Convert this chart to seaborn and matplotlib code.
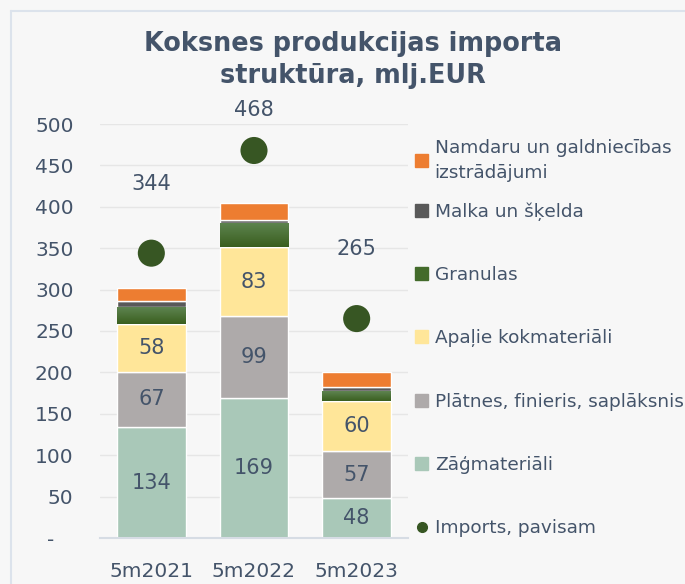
import numpy as np
import pandas as pd
import matplotlib
matplotlib.use("Agg")
import matplotlib.pyplot as plt
from matplotlib.patches import Patch
from matplotlib.lines import Line2D
from matplotlib.colors import LinearSegmentedColormap
import seaborn as sns

# chart data (mlj. EUR)
periods = ["5m2021", "5m2022", "5m2023"]
zagmateriali = [134, 169, 48]
platnes = [67, 99, 57]
apalie = [58, 83, 60]
granulas = [20, 29, 12]
malka = [7, 4, 5]
namdaru = [16, 20, 18]
imports_total = [344, 468, 265]

series_names = [
    "Zāģmateriāli",
    "Plātnes, finieris, saplāksnis",
    "Apaļie kokmateriāli",
    "Granulas",
    "Malka un šķelda",
    "Namdaru un galdniecības\nizstrādājumi",
]
series_values = [zagmateriali, platnes, apalie, granulas, malka, namdaru]
series_colors = ["#A9C8B8", "#AEAAAA", "#FFE699", "#436B2B", "#595959", "#ED7D31"]
label_series = [True, True, True, False, False, False]

TEXT = "#44546A"
BG = "#F7F7F7"

sns.set_theme(style="white")
plt.rcParams["font.family"] = ["DejaVu Sans"]

fig = plt.figure(figsize=(6.85, 5.84), dpi=100, facecolor=BG)
ax = fig.add_axes([100 / 685, 46 / 584, 308 / 685, (538 - 124) / 584])
ax.set_facecolor(BG)

df = pd.DataFrame({"period": periods})
bottom = np.zeros(len(periods))
for name, vals, col, lab in zip(series_names, series_values, series_colors, label_series):
    df["v"] = vals
    sns.barplot(data=df, x="period", y="v", color=col, width=0.67, bottom=bottom,
                saturation=1, ax=ax, zorder=2)
    cont = ax.containers[-1]
    if name == "Granulas":
        # vertical gradient fill like the original
        cmap = LinearSegmentedColormap.from_list("g", ["#3A5F1F", "#5E8450"])
        grad = np.linspace(0, 1, 64).reshape(-1, 1)
        for p in cont:
            x0, y0, w, h = p.get_x(), p.get_y(), p.get_width(), p.get_height()
            im = ax.imshow(grad, cmap=cmap, origin="lower", aspect="auto",
                           extent=[x0, x0 + w, y0, y0 + h], zorder=2.5)
            im.set_clip_path(p)
    if lab:
        ax.bar_label(cont, labels=[str(v) for v in vals], label_type="center",
                     fontsize=15, color=TEXT)
    bottom = bottom + np.array(vals)

# total imports dots, labels above (kept inside the chart top)
sns.scatterplot(x=periods, y=imports_total, s=380, color="#375623", edgecolor="none",
                ax=ax, zorder=4, legend=False)
for i, v in enumerate(imports_total):
    ax.text(i, min(v + 84, 517), str(v), ha="center", va="center", fontsize=15,
            color=TEXT, clip_on=False)

ax.set_xlim(-0.5, 2.5)
ax.set_ylim(0, 500)
ax.set_yticks(range(0, 501, 50))
ax.set_yticklabels(["-   "] + [str(t) for t in range(50, 501, 50)])
ax.yaxis.grid(True, color="#E6E6E6", linewidth=1)
ax.set_axisbelow(True)
for s in ["top", "right", "left"]:
    ax.spines[s].set_visible(False)
ax.spines["bottom"].set_color("#D6DCE4")
ax.spines["bottom"].set_linewidth(1.5)
ax.tick_params(axis="y", length=0, pad=19, labelsize=14.5, labelcolor=TEXT)
ax.tick_params(axis="x", length=0, pad=17, labelsize=14.5, labelcolor=TEXT)
ax.set_xlabel("")
ax.set_ylabel("")

fig.text(353 / 685, 1 - 60 / 584, "Koksnes produkcijas importa\nstruktūra, mlj.EUR",
         ha="center", va="center", fontsize=18.4, fontweight="bold", color=TEXT,
         linespacing=1.3)

# legend: first (two-line) entry on its own, the rest evenly spaced below
handles = [Patch(color=c) for c in series_colors[::-1]]
handles.append(Line2D([], [], marker="o", linestyle="none", color="#375623", markersize=7))
labels = series_names[::-1] + ["Imports, pavisam"]
leg_kw = dict(loc="upper left", frameon=False, fontsize=13.3, labelcolor=TEXT,
              handlelength=0.7, handleheight=0.7, handletextpad=0.35, borderpad=0)
leg1 = fig.legend(handles[:1], labels[:1], bbox_to_anchor=(406 / 685, 1 - 130 / 584), **leg_kw)
for t in leg1.get_texts():
    t.set_linespacing(1.45)
leg2 = fig.legend(handles[1:], labels[1:], bbox_to_anchor=(406 / 685, 1 - 193 / 584),
                  labelspacing=2.45, **leg_kw)

# chart frame
fig.add_artist(Line2D([11 / 685, 11 / 685], [0, 1 - 11 / 584], color="#DCE3EC", lw=1.5))
fig.add_artist(Line2D([11 / 685, 1.01], [1 - 11 / 584, 1 - 11 / 584], color="#DCE3EC", lw=1.5))

fig.savefig("out.png", dpi=100, facecolor=BG)
